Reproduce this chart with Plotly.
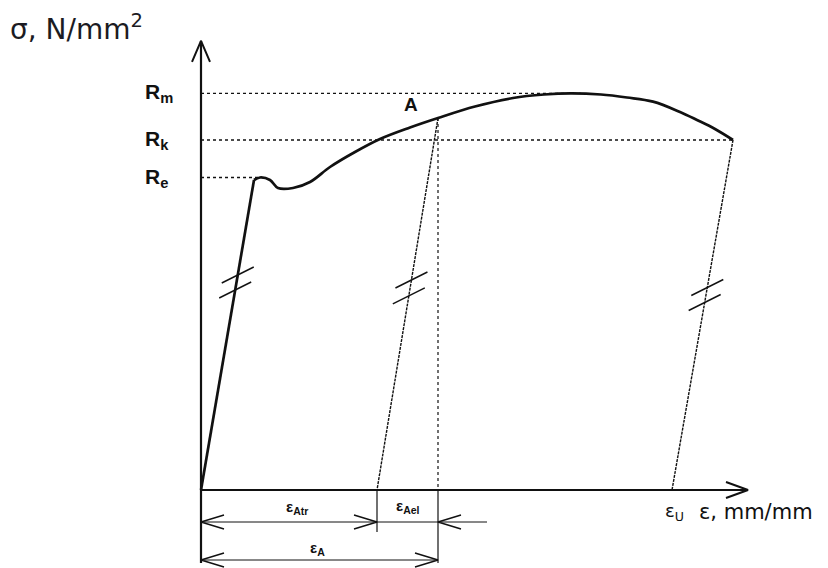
import plotly.graph_objects as go

# ---------------- data (schematic stress-strain diagram) ----------------
strain_elastic = [0.0, 0.0265]
stress_elastic = [0.0, 372.0]

strain_curve = [0.0265, 0.0295, 0.0345, 0.0385, 0.046, 0.0545, 0.0645, 0.077, 0.0895,
                0.1045, 0.1185, 0.137, 0.156, 0.1715, 0.185, 0.2, 0.213, 0.226, 0.2395,
                0.248, 0.257, 0.266]
stress_curve = [372.0, 375.0, 372.0, 362.4, 362.4, 369.6, 387.6, 405.6, 421.2,
                435.0, 446.4, 460.2, 470.4, 474.6, 476.0, 474.6, 471.0, 466.0, 453.6,
                444.0, 433.2, 420.0]

R_e, R_k, R_m = 375.0, 420.0, 476.0
eps_A, sig_A = 0.1185, 446.4          # point A
eps_Atr = 0.088                        # residual strain after unloading from A
eps_end, sig_end = 0.266, 420.0        # fracture point
eps_U = 0.2355                         # residual strain after fracture
x_axis_end, y_axis_end = 0.2735, 539.0
Rm_line_end = 0.19
dim_tail = 0.143

# ---------------- scale helpers (pixel offsets -> data units) ----------------
W, H = 820, 560          # page body keeps an 8 px margin
kx, ky = 1 / 2000, 1.2   # data units per pixel
X0 = (8 - 201) * kx
X1 = X0 + W * kx
Y1 = (490 - 8) * ky
Y0 = Y1 - H * ky


def dx(p):
    return p * kx


def dy(p):
    return p * ky


fig = go.Figure()
BLACK = "#111111"


def add_line(xs, ys, width=1.2, dash="solid", color=BLACK, shape="linear"):
    fig.add_trace(go.Scatter(x=xs, y=ys, mode="lines", hoverinfo="skip",
                             line=dict(color=color, width=width, dash=dash, shape=shape),
                             showlegend=False))


def chevron(tx, ty, ux, uy, back=23, half=7, width=1.5):
    n = (ux * ux + uy * uy) ** 0.5
    ux, uy = ux / n, uy / n
    bx, by = -ux * back, -uy * back
    px, py = -uy * half, ux * half
    xs = [tx + dx(bx + px), tx, tx + dx(bx - px)]
    ys = [ty + dy(by + py), ty, ty + dy(by - py)]
    add_line(xs, ys, width=width)


def hash_marks(x_top, y_top, x_bot, y_bot, levels, width=1.4):
    xs, ys = [], []
    for s in levels:
        t = (s - y_bot) / (y_top - y_bot)
        cx = x_bot + t * (x_top - x_bot)
        xs += [cx - dx(16), cx + dx(16), None]
        ys += [s - dy(8), s + dy(8), None]
    add_line(xs, ys, width=width)


# reference (dotted) lines
add_line([0, Rm_line_end], [R_m, R_m], width=1.4, dash="dot")
add_line([0, eps_end], [R_k, R_k], width=1.4, dash="dot")
add_line([0, strain_curve[1]], [R_e, R_e], width=1.4, dash="dot")

# unloading lines
add_line([eps_A, eps_Atr], [sig_A, 0], width=1.4, dash="3px,1px")
add_line([eps_end, eps_U], [sig_end, 0], width=1.4, dash="3px,1px")
add_line([eps_A, eps_A], [sig_A, 0], width=1.2, dash="dot")

# axes
add_line([0, 0], [dy(-73), y_axis_end], width=2.2)
add_line([0, x_axis_end], [0, 0], width=2.2)
chevron(0, y_axis_end, 0, 1, back=21, half=9, width=2)
chevron(x_axis_end, 0, 1, 0, back=22, half=8, width=2)

# stress-strain curve
add_line(strain_elastic, stress_elastic, width=2.7)
add_line(strain_curve, stress_curve, width=2.7, shape="spline")

# hash marks on the parallel lines
hash_marks(strain_elastic[1], stress_elastic[1], 0, 0, [258.0, 240.0])
hash_marks(eps_A, sig_A, eps_Atr, 0, [252.0, 233.0])
hash_marks(eps_end, sig_end, eps_U, 0, [243.0, 225.0])

# dimension lines
row1, row2 = dy(-32), dy(-70)
add_line([eps_A, eps_A], [0, dy(-73)], width=1.2)
add_line([eps_Atr, eps_Atr], [0, dy(-42)], width=1.2)
add_line([0, dim_tail], [row1, row1], width=1.0)
add_line([0, eps_A], [row2, row2], width=1.0)
chevron(0, row1, -1, 0)
chevron(eps_Atr, row1, 1, 0)
chevron(eps_A, row1, -1, 0)
chevron(0, row2, -1, 0)
chevron(eps_A, row2, 1, 0)

# ---------------- text ----------------
ann = []


def label(x, y, text, size, bold=False, xanchor="center", family="DejaVu Sans", color=BLACK):
    ann.append(dict(x=x, y=y, xref="x", yref="y", text=text, showarrow=False,
                    xanchor=xanchor, yanchor="middle",
                    font=dict(size=size, family=family, color=color,
                              weight="bold" if bold else "normal")))


label(dx(-193), dy(490 - 27), "σ, N/mm<sup>2</sup>", 28, xanchor="left", color="#1b1b22")
label(dx(-58), R_m + dy(0), "R<sub>m</sub>", 21, bold=True, xanchor="left", family="Liberation Sans")
label(dx(-58), R_k + dy(0), "R<sub>k</sub>", 21, bold=True, xanchor="left", family="Liberation Sans")
label(dx(-58), R_e + dy(0), "R<sub>e</sub>", 21, bold=True, xanchor="left", family="Liberation Sans")
label(eps_A - dx(27), sig_A + dy(14), "A", 19, bold=True, family="Liberation Sans")
label(eps_Atr / 2 + dx(8), dy(-17), "ε<sub>Atr</sub>", 15, bold=True, family="Liberation Sans")
label((eps_Atr + eps_A) / 2 + dx(0), dy(-16), "ε<sub>Ael</sub>", 15, bold=True, family="Liberation Sans")
label(eps_A / 2 + dx(-2), dy(-58), "ε<sub>A</sub>", 15, bold=True, family="Liberation Sans")
label(eps_U + dx(2), dy(-22), "ε<sub>U</sub>", 18, family="DejaVu Sans")
label(eps_U + dx(25), dy(-22), "ε, mm/mm", 21, xanchor="left")

fig.update_layout(
    width=W, height=H,
    margin=dict(l=0, r=0, t=0, b=0),
    paper_bgcolor="white", plot_bgcolor="white",
    xaxis=dict(range=[X0, X1], visible=False, fixedrange=True),
    yaxis=dict(range=[Y0, Y1], visible=False, fixedrange=True),
    annotations=ann,
    showlegend=False,
)

fig.write_html("out.html")
